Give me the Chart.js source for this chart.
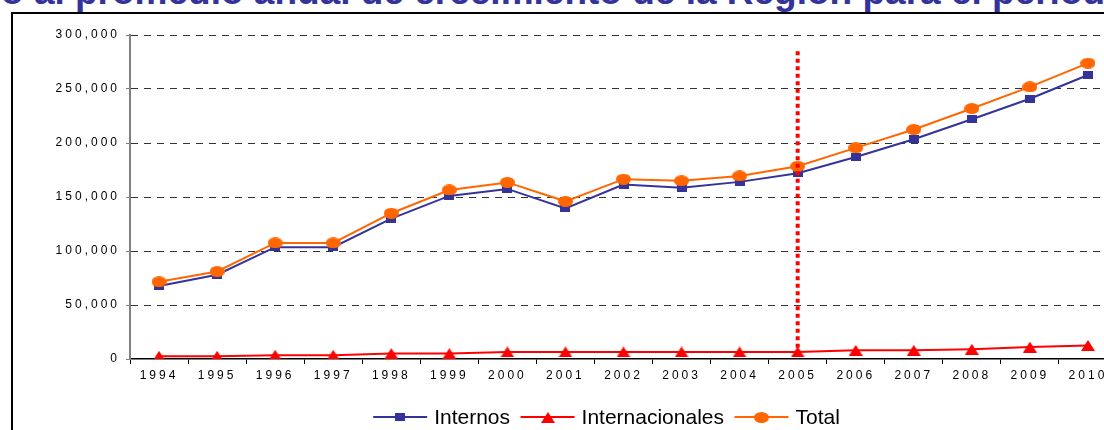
<!DOCTYPE html>
<html><head><meta charset="utf-8">
<script src="https://cdn.jsdelivr.net/npm/chart.js@4.4.1/dist/chart.umd.min.js"></script>
<style>
html,body{margin:0;padding:0;background:#fff;overflow:hidden;width:1104px;height:430px;position:relative;}
#title{position:absolute;left:1px;top:-27px;white-space:nowrap;font:bold 37px "Liberation Sans",Arial,sans-serif;color:#333399;line-height:37px;}
#frame{position:absolute;left:11px;top:12px;width:1300px;height:600px;border-left:2px solid #000;border-top:2px solid #000;}
#c{position:absolute;left:1px;top:0;}
</style></head><body>
<div id="title">o al promedio anual de crecimiento de la Región para el período</div>
<div id="frame"></div>
<canvas id="c" width="1125" height="430"></canvas>
<script>
const years = ['1994','1995','1996','1997','1998','1999','2000','2001','2002','2003','2004','2005','2006','2007','2008','2009','2010'];
const internos = [67500, 78000, 103500, 103500, 130000, 151000, 157500, 139500, 161500, 158500, 164000, 172000, 187000, 203500, 222000, 241000, 263000];
const internacionales = [2500, 2500, 3500, 3500, 5000, 5000, 6500, 6500, 6500, 6500, 6500, 6500, 8000, 8000, 9000, 11000, 12500];
const total = [71500, 81000, 107500, 107500, 135000, 156500, 163500, 146000, 166500, 165000, 169500, 178500, 195500, 212500, 232000, 252000, 274000];
const seriesNames = ['Internos', 'Internacionales', 'Total'];
const yMax = 300000, yStep = 50000;
const refYear = '2005', refTop = 285000;

const NAVY = '#333399', RED = '#FF0000', ORANGE = '#FF6600';
const FONT = '"Liberation Sans", Arial, sans-serif';
const LEGEND_CX = 605.5, LEGEND_Y = 417;

function makeMarker(w, h, color, shape) {
  const c = document.createElement('canvas'); c.width = w; c.height = h;
  const g = c.getContext('2d'); g.fillStyle = color; g.beginPath();
  if (shape === 'ellipse') g.ellipse(w/2, h/2, w/2, h/2, 0, 0, Math.PI*2);
  else if (shape === 'rect') g.rect(0, 0, w, h);
  else { g.moveTo(w/2, 0); g.lineTo(w, h); g.lineTo(0, h); g.closePath(); }
  g.fill(); return c;
}
const mSquare = makeMarker(10, 8, NAVY, 'rect');
const mTri = makeMarker(14, 11, RED, 'tri');
const mCircle = makeMarker(15, 11, ORANGE, 'ellipse');

const spacingPlugin = { id: 'spacing', beforeDraw(chart) { chart.ctx.letterSpacing = '3px'; } };

const refLinePlugin = {
  id: 'refLine',
  afterDatasetsDraw(chart) {
    const ctx = chart.ctx, xs = chart.scales.x, ys = chart.scales.y;
    const x = xs.getPixelForValue(years.indexOf(refYear));
    ctx.save();
    ctx.strokeStyle = RED; ctx.lineWidth = 4; ctx.setLineDash([4, 3.5]);
    ctx.beginPath(); ctx.moveTo(x, ys.getPixelForValue(refTop)); ctx.lineTo(x, ys.getPixelForValue(0) - 1); ctx.stroke();
    ctx.restore();
  }
};

const legendPlugin = {
  id: 'customLegend',
  afterDraw(chart) {
    const ctx = chart.ctx;
    ctx.save();
    ctx.letterSpacing = '0px';
    ctx.font = '21px ' + FONT;
    const items = chart.data.datasets.map(ds => ({ label: ds.label, color: ds.borderColor, marker: ds.pointStyle }));
    const lineLen = 54, gapText = 7, gapItem = 10.5;
    const widths = items.map(it => lineLen + gapText + ctx.measureText(it.label).width);
    const sum = widths.reduce((a, b) => a + b, 0) + gapItem * (items.length - 1);
    let x = LEGEND_CX - sum / 2;
    items.forEach((it, i) => {
      ctx.strokeStyle = it.color; ctx.lineWidth = 2;
      ctx.beginPath(); ctx.moveTo(x, LEGEND_Y); ctx.lineTo(x + lineLen, LEGEND_Y); ctx.stroke();
      ctx.drawImage(it.marker, Math.round(x + lineLen / 2 - it.marker.width / 2), Math.round(LEGEND_Y - it.marker.height / 2));
      ctx.fillStyle = '#000'; ctx.textBaseline = 'middle'; ctx.textAlign = 'left';
      ctx.fillText(it.label, x + lineLen + gapText, LEGEND_Y + 1);
      x += widths[i] + gapItem;
    });
    ctx.restore();
  }
};

new Chart(document.getElementById('c'), {
  type: 'line',
  data: {
    labels: years,
    datasets: [
      { label: seriesNames[0], data: internos, borderColor: NAVY, backgroundColor: NAVY, borderWidth: 2, pointStyle: mSquare, order: 3 },
      { label: seriesNames[1], data: internacionales, borderColor: RED, backgroundColor: RED, borderWidth: 2, pointStyle: mTri, order: 2 },
      { label: seriesNames[2], data: total, borderColor: ORANGE, backgroundColor: ORANGE, borderWidth: 2, pointStyle: mCircle, order: 1 }
    ]
  },
  options: {
    responsive: false,
    animation: false,
    devicePixelRatio: 1,
    layout: { padding: { top: 35, left: 0, right: 3, bottom: 0 } },
    elements: { line: { tension: 0 }, point: { radius: 7, hoverRadius: 7 } },
    plugins: { legend: { display: false }, tooltip: { enabled: false }, title: { display: false } },
    scales: {
      x: {
        offset: true,
        grid: { display: true, drawOnChartArea: false, drawTicks: true, tickLength: 5, color: '#000', offset: true },
        border: { display: true, color: '#000', width: 1.5 },
        ticks: { color: '#000', font: { family: FONT, size: 12 }, padding: 4, maxRotation: 0, autoSkip: false },
        afterFit(scale) { scale.height = 71; }
      },
      y: {
        min: 0, max: yMax,
        grid: { color: c => (c.tick && c.tick.value === 0) ? 'rgba(0,0,0,0)' : '#333333', lineWidth: 1, tickLength: 4, tickColor: '#808080', drawTicks: true },
        border: { display: true, color: '#808080', width: 2, dash: [7, 6] },
        ticks: { stepSize: yStep, color: '#000', font: { family: FONT, size: 12 }, padding: 6, callback: v => v.toLocaleString('en-US') },
        afterFit(scale) { scale.width = 129; }
      }
    }
  },
  plugins: [spacingPlugin, refLinePlugin, legendPlugin]
});
</script>
</body></html>
